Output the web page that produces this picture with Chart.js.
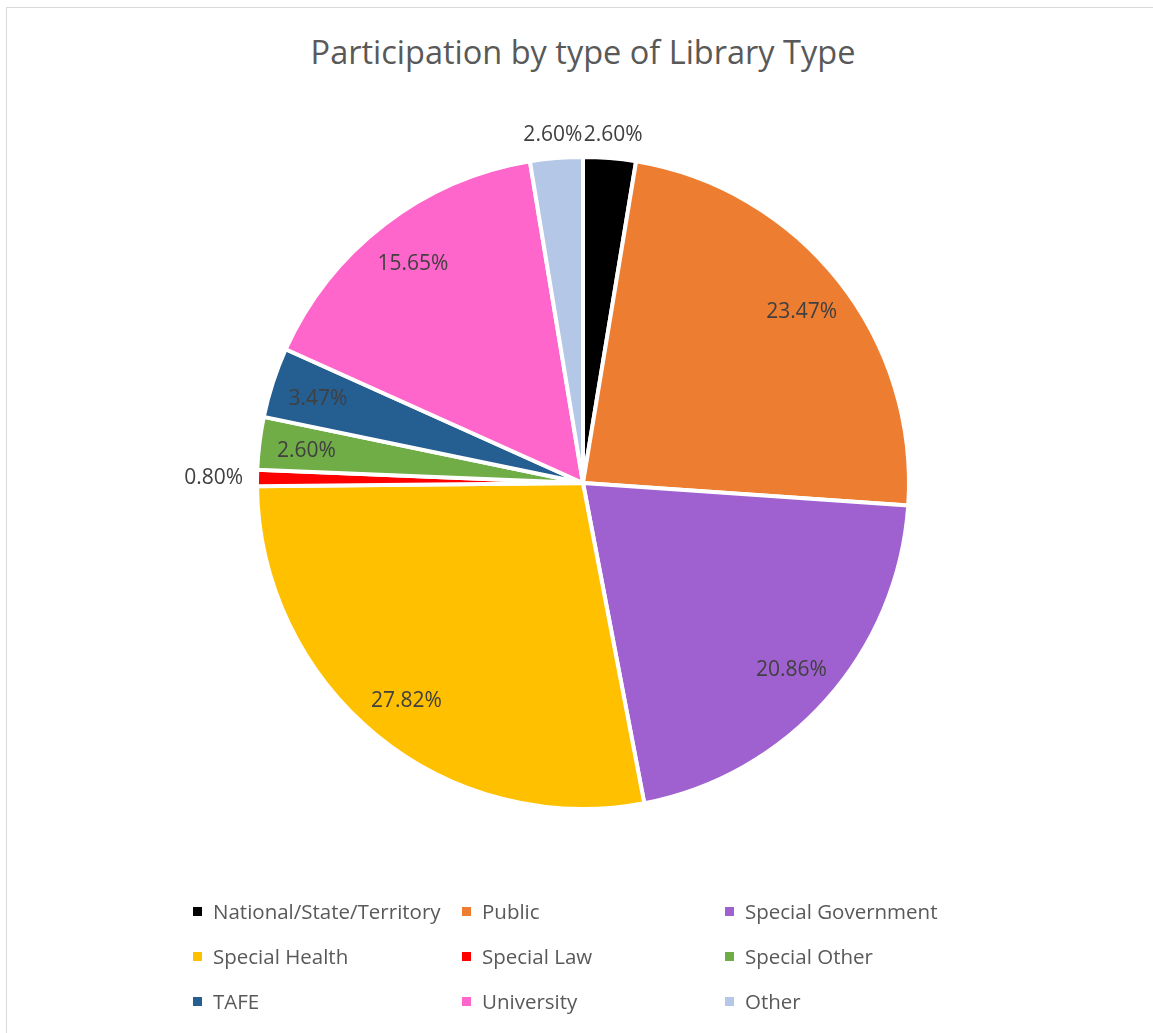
<!DOCTYPE html>
<html>
<head>
<meta charset="utf-8">
<script src="https://cdn.jsdelivr.net/npm/chart.js@4"></script>
<style>
  html, body { margin: 0; padding: 0; background: #fff; }
  body { width: 1153px; height: 1033px; position: relative; overflow: hidden; font-family: 'Open Sans', sans-serif; }
  #frame { position: absolute; left: 6px; top: 7px; width: 1300px; height: 1200px; border-top: 1px solid #d9d9d9; border-left: 1px solid #d9d9d9; }
  #title { position: absolute; left: 0; width: 1166px; top: 29px; text-align: center; font-size: 32.5px; color: #595959; }
  #wrap { position: absolute; left: 0; top: 0; width: 1153px; height: 1033px; }
  #legend { position: absolute; left: 193px; top: 897px; display: grid; grid-template-columns: 269px 263px 300px; row-gap: 17px; }
  .item { display: flex; align-items: center; font-size: 20.5px; color: #595959; height: 28px; white-space: nowrap; }
  .box { width: 9px; height: 9px; margin-right: 11px; }
</style>
</head>
<body>
<div id="frame"></div>
<div id="title">Participation by type of Library Type</div>
<div id="wrap"><canvas id="chart" width="1153" height="1033"></canvas></div>
<div id="legend"></div>
<script>
const categories = [
  'National/State/Territory', 'Public', 'Special Government',
  'Special Health', 'Special Law', 'Special Other',
  'TAFE', 'University', 'Other',
];
const shares = [2.60, 23.47, 20.86, 27.82, 0.80, 2.60, 3.47, 15.65, 2.60];
const sliceColors = [
  '#000000', '#ED7D31', '#9E61CF',
  '#FFC000', '#FF0000', '#70AD47',
  '#255E91', '#FF66CC', '#B4C7E7',
];

// Excel-like "best fit" labels: inside when the text fits, outside otherwise
const labelPlugin = {
  id: 'bestFitLabels',
  afterDatasetsDraw(chart) {
    const ctx = chart.ctx;
    const meta = chart.getDatasetMeta(0);
    ctx.save();
    ctx.font = '21px "Open Sans"';
    ctx.fillStyle = '#404040';
    ctx.textAlign = 'center';
    ctx.textBaseline = 'middle';
    meta.data.forEach((arc, i) => {
      const { x, y, startAngle, endAngle, outerRadius } = arc.getProps(['x', 'y', 'startAngle', 'endAngle', 'outerRadius'], true);
      const text = shares[i].toFixed(2) + '%';
      const w = ctx.measureText(text).width;
      const h = 18;
      const mid = (startAngle + endAngle) / 2;
      const c = Math.cos(mid), s = Math.sin(mid);
      const rho = outerRadius * 0.855;
      const px = x + c * rho, py = y + s * rho;
      const span = endAngle - startAngle;
      const fits = [[-1, -1], [1, -1], [1, 1], [-1, 1]].every(([sx, sy]) => {
        const cx = px + sx * w / 2 - x, cy = py + sy * h / 2 - y;
        if (Math.hypot(cx, cy) > outerRadius - 3) return false;
        let rel = Math.atan2(cy, cx) - startAngle;
        rel = ((rel % (2 * Math.PI)) + 2 * Math.PI) % (2 * Math.PI);
        return rel <= span;
      });
      if (fits) {
        ctx.fillText(text, px, py + 2);
      } else {
        const ax = x + c * (outerRadius + 14), ay = y + s * (outerRadius + 14);
        ctx.fillText(text, ax + c * w / 2, ay + s * h / 2);
      }
    });
    ctx.restore();
  },
};

new Chart(document.getElementById('chart'), {
  type: 'pie',
  data: {
    labels: categories,
    datasets: [{
      data: shares,
      backgroundColor: sliceColors,
      borderColor: '#ffffff',
      borderWidth: 4,
    }],
  },
  plugins: [labelPlugin],
  options: {
    responsive: false,
    animation: false,
    layout: { padding: { top: 155, bottom: 222, left: 255, right: 242 } },
    plugins: {
      legend: { display: false },
      tooltip: { enabled: false },
    },
  },
});

const legend = document.getElementById('legend');
categories.forEach((name, i) => {
  const item = document.createElement('div');
  item.className = 'item';
  item.innerHTML = `<span class="box" style="background:${sliceColors[i]}"></span>${name}`;
  legend.appendChild(item);
});
</script>
</body>
</html>
